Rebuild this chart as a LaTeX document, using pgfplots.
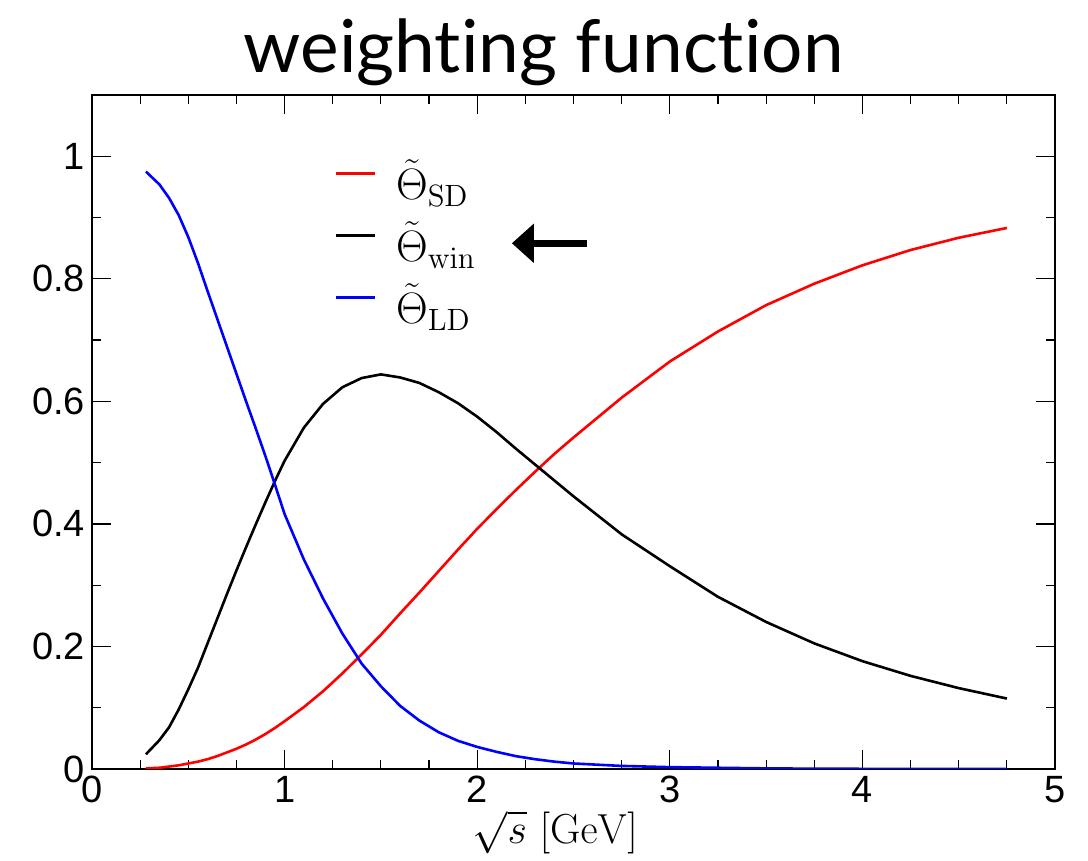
\RequirePackage{fix-cm}
\documentclass[border=0pt]{standalone}
\usepackage[no-math]{fontspec}
\usepackage{pgfplots}
\usepackage{pgfplotstable}
\pgfplotsset{compat=1.18}
\usetikzlibrary{arrows.meta}
\newfontfamily\helv{Liberation Sans}
\newfontfamily\titlefont[Ligatures=NoCommon]{Lato}

% sqrt(s) [GeV], short-distance, window and long-distance weights
\pgfplotstableread{
x     sd      win    ld
0.28  0.001   0.024  0.975
0.35  0.002   0.047  0.954
0.40  0.004   0.068  0.932
0.45  0.006   0.097  0.904
0.50  0.009   0.130  0.868
0.55  0.012   0.165  0.826
0.60  0.016   0.205  0.780
0.65  0.021   0.245  0.735
0.70  0.027   0.285  0.690
0.75  0.033   0.324  0.645
0.80  0.040   0.362  0.600
0.85  0.048   0.399  0.556
0.90  0.057   0.435  0.511
0.95  0.067   0.470  0.464
1.00  0.078   0.503  0.416
1.10  0.101   0.557  0.342
1.20  0.127   0.596  0.278
1.30  0.156   0.623  0.221
1.40  0.187   0.638  0.172
1.50  0.219   0.644  0.135
1.60  0.254   0.639  0.103
1.70  0.288   0.630  0.079
1.80  0.323   0.615  0.060
1.90  0.358   0.597  0.046
2.00  0.392   0.575  0.036
2.10  0.424   0.550  0.028
2.20  0.455   0.523  0.021
2.30  0.485   0.497  0.016
2.40  0.514   0.471  0.012
2.50  0.541   0.445  0.009
2.75  0.606   0.383  0.005
3.00  0.665   0.331  0.003
3.25  0.714   0.281  0.002
3.50  0.757   0.240  0.001
3.75  0.792   0.205  0.0005
4.00  0.822   0.176  0.0003
4.25  0.847   0.152  0.0002
4.50  0.867   0.132  0.0001
4.75  0.883   0.115  0.0001
}\weights

\begin{document}
\begin{tikzpicture}
\useasboundingbox (-46pt,-46pt) rectangle (498pt,384.5pt);
\begin{axis}[
  at={(0pt,0pt)}, anchor=south west,
  scale only axis, width=481.5pt, height=337pt,
  xmin=0, xmax=5, ymin=0, ymax=1.1,
  xtick={0,1,2,3,4,5},
  ytick={0,0.2,0.4,0.6,0.8,1},
  yticklabels={0,0.2,0.4,0.6,0.8,1},
  minor x tick num=3, minor y tick num=1,
  tick align=inside,
  major tick length=9.5pt, minor tick length=4.5pt,
  tick style={black, line width=0.6pt},
  axis line style={black, line width=1pt},
  /pgf/number format/assume math mode=true,
  ticklabel style={font=\helv\fontsize{19}{21}\selectfont},
  title={weighting function},
  title style={at={(0.469,1)}, anchor=base, yshift=5pt,
    font=\titlefont\fontsize{36.5}{40}\selectfont},
  xlabel={$\sqrt{s}\ [\mathrm{GeV}]$},
  xlabel style={at={(axis description cs:0.481,0)}, anchor=center,
    yshift=-31.5pt, font=\fontsize{21}{24}\selectfont},
  legend style={draw=none, fill=none, inner sep=0pt,
    at={(axis cs:1.257,0.989)}, anchor=north west,
    font=\fontsize{22}{26}\selectfont, row sep=7pt,
    nodes={inner sep=0pt, text height=18pt, text depth=6pt},
    column sep=10pt},
  legend cell align=left,
  legend image code/.code={\draw[#1] (0pt,7pt) -- (19.5pt,7pt);},
]
\addplot[red, line width=1.3pt] table[x=x, y=sd] {\weights};
\addlegendentry{$\tilde\Theta_{\mathrm{SD}}$}
\addplot[black, line width=1.3pt] table[x=x, y=win] {\weights};
\addlegendentry{$\tilde\Theta_{\mathrm{win}}$}
\addplot[blue, line width=1.3pt] table[x=x, y=ld] {\weights};
\addlegendentry{$\tilde\Theta_{\mathrm{LD}}$}
% arrow pointing at the window entry
\addplot[black, line width=3.5pt, forget plot,
  -{Triangle[length=11pt, width=19pt]}]
  coordinates {(2.57,0.858) (2.18,0.858)};
\end{axis}
\end{tikzpicture}
\end{document}
